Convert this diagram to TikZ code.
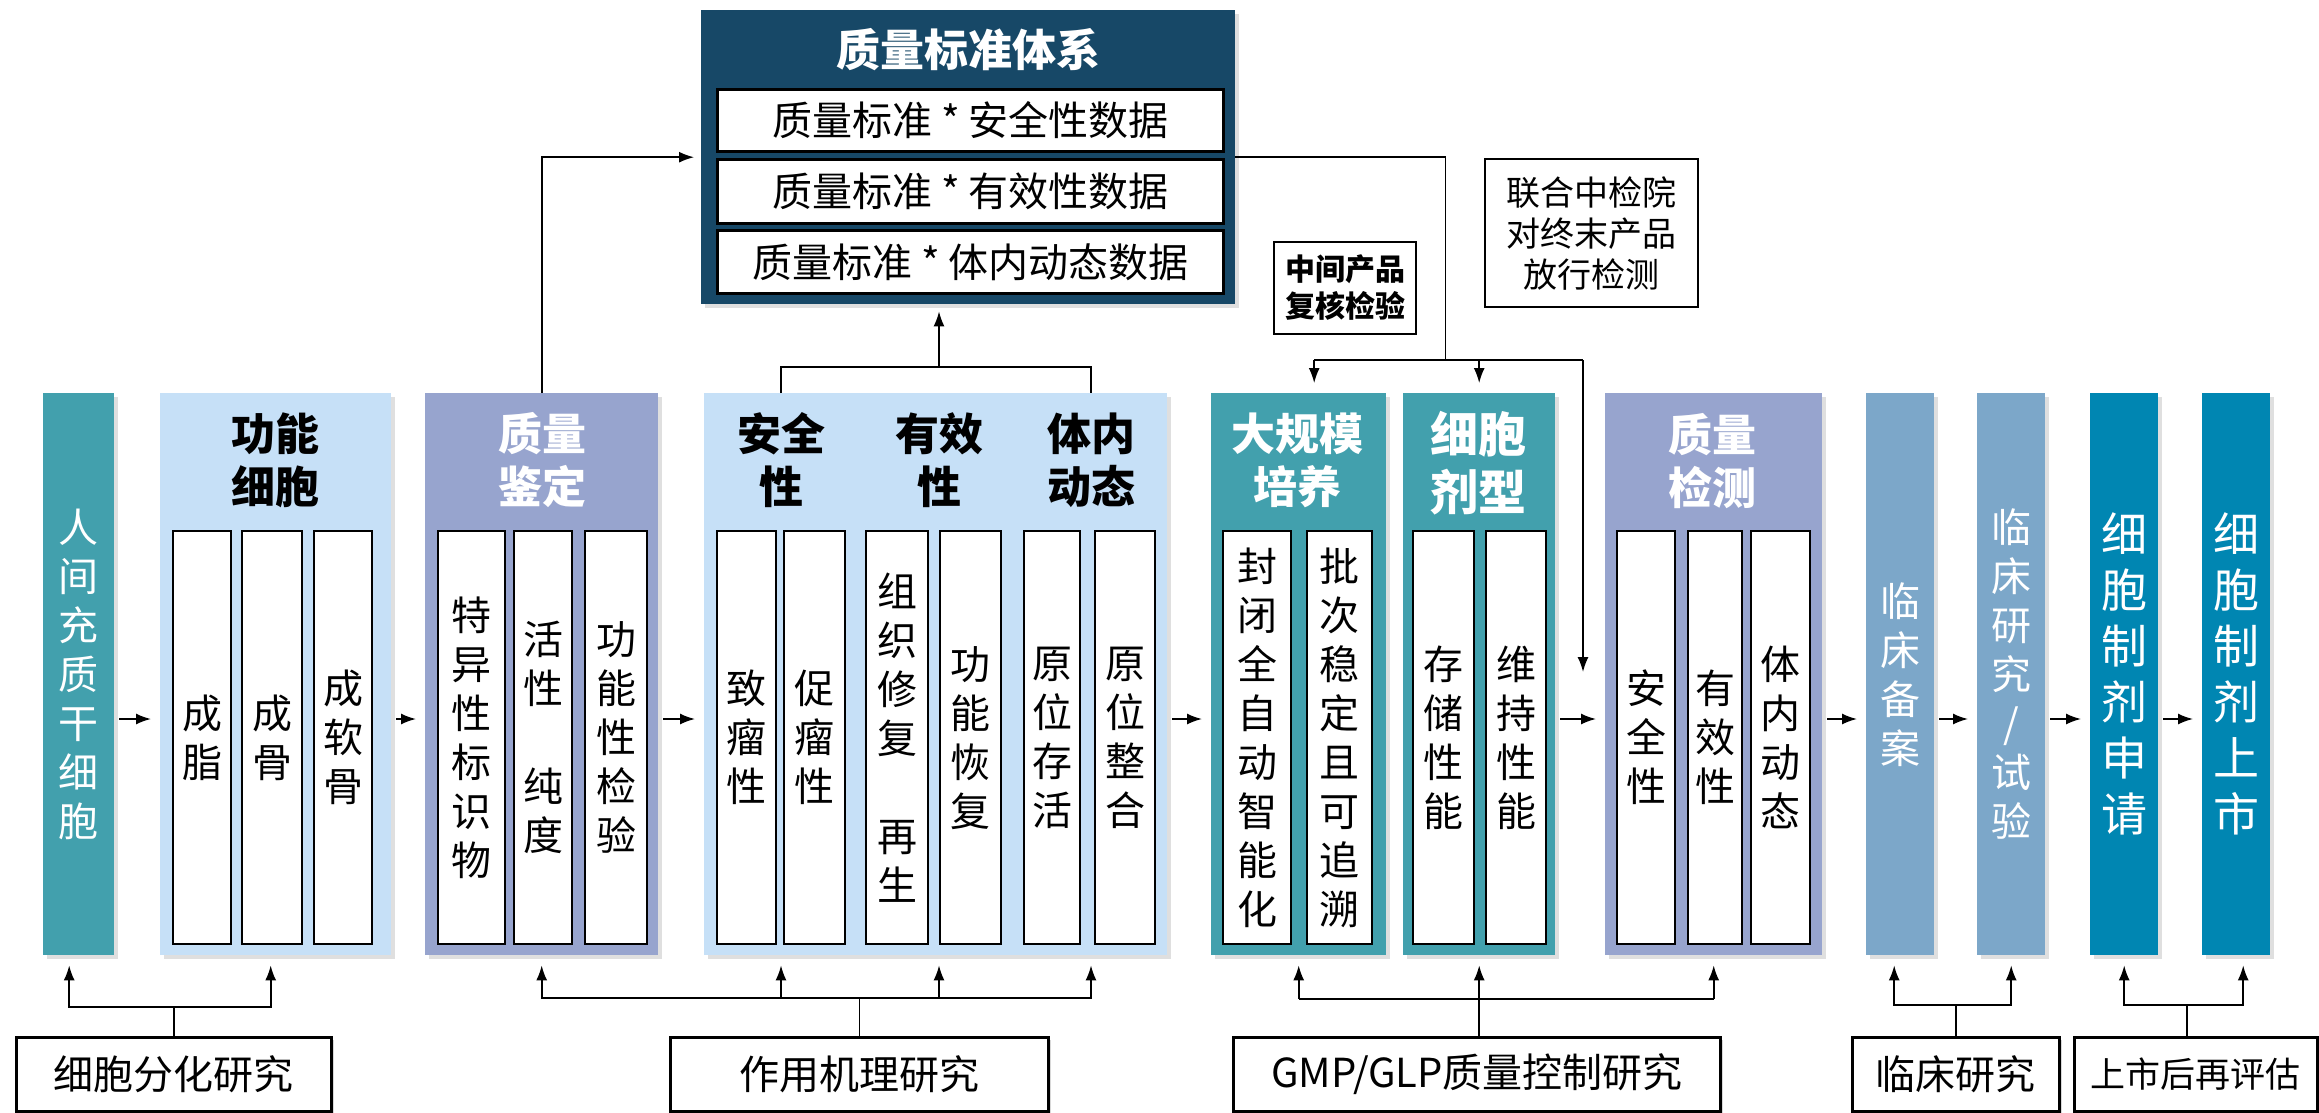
\documentclass[tikz,border=0pt]{standalone}
\usepackage{fontspec}
\setmainfont{Noto Sans CJK SC}
\usetikzlibrary{arrows.meta,shadows,calc}
\definecolor{cteal}{RGB}{66,160,173}
\definecolor{clight}{RGB}{198,224,247}
\definecolor{cpurp}{RGB}{151,164,206}
\definecolor{csteel}{RGB}{124,167,201}
\definecolor{cblue}{RGB}{0,134,178}
\definecolor{cdark}{RGB}{23,72,103}
\begin{document}
\begin{tikzpicture}[x=1pt,y=-1pt,
  panel/.style={inner sep=0pt, anchor=north west, minimum height=562,
    drop shadow={shadow xshift=4pt,shadow yshift=-4pt,opacity=0.25}},
  bar/.style={panel, align=center, text=white, font=\fontsize{40}{49}\selectfont},
  col/.style={draw, line width=2.4pt, fill=white, inner sep=0pt, anchor=north west,
    minimum height=413, align=center, font=\fontsize{40}{49}\selectfont},
  ttl/.style={inner sep=0pt, align=center, font=\bfseries\fontsize{44}{53}\selectfont},
  wbox/.style={draw, line width=3pt, fill=white, inner sep=0pt, anchor=north west,
    minimum width=506, align=center, font=\fontsize{40}{46}\selectfont},
  tbox/.style={draw, line width=2pt, fill=white, inner sep=0pt, anchor=north west, align=center},
  lbox/.style={draw, line width=2.8pt, fill=white, inner sep=0pt, anchor=north west,
    minimum height=74, font=\fontsize{40}{48}\selectfont,
    drop shadow={shadow xshift=3pt,shadow yshift=-3pt,opacity=0.3}},
  arr/.style={line width=1.6pt, -{Latex[length=15pt,width=11pt]}},
  ln/.style={line width=1.6pt}
]
\useasboundingbox (0,0) rectangle (2319,1112);
\fill[white] (0,0) rectangle (2319,1112);

% ---------- main row ----------
\node[bar, fill=cteal, minimum width=71] (stem) at (43,393) {人\\间\\充\\质\\干\\细\\胞};

\node[panel, fill=clight, minimum width=231] (func) at (160,393) {};
\node[ttl] (tfunc) at (275,460) {功能\\细胞};
\node[col, minimum width=58] (a1) at (172,530) {成\\脂};
\node[col, minimum width=60] (a2) at (241,530) {成\\骨};
\node[col, minimum width=58] (a3) at (313,530) {成\\软\\骨};

\node[panel, fill=cpurp, minimum width=233] (qid) at (425,393) {};
\node[ttl, text=white] (tqid) at (542,460) {质量\\鉴定};
\node[col, minimum width=67] (b1) at (437,530) {特\\异\\性\\标\\识\\物};
\node[col, minimum width=58] (b2) at (513,530) {活\\性\\~\\纯\\度};
\node[col, minimum width=62] (b3) at (584,530) {功\\能\\性\\检\\验};

\node[panel, fill=clight, minimum width=463] (mech) at (704,393) {};
\node[ttl] (tsafe) at (781,460) {安全\\性};
\node[ttl] (teff) at (939,460) {有效\\性};
\node[ttl] (tdyn) at (1091,460) {体内\\动态};
\node[col, minimum width=59] (c1) at (716,530) {致\\瘤\\性};
\node[col, minimum width=61] (c2) at (783,530) {促\\瘤\\性};
\node[col, minimum width=62] (c3) at (865,530) {组\\织\\修\\复\\~\\再\\生};
\node[col, minimum width=61] (c4) at (939,530) {功\\能\\恢\\复};
\node[col, minimum width=56] (c5) at (1023,530) {原\\位\\存\\活};
\node[col, minimum width=60] (c6) at (1094,530) {原\\位\\整\\合};

\node[panel, fill=cteal, minimum width=175] (scale) at (1211,393) {};
\node[ttl, text=white] (tscale) at (1297,460) {大规模\\培养};
\node[col, minimum width=68] (d1) at (1222,530) {封\\闭\\全\\自\\动\\智\\能\\化};
\node[col, minimum width=65] (d2) at (1306,530) {批\\次\\稳\\定\\且\\可\\追\\溯};

\node[panel, fill=cteal, minimum width=152] (form) at (1403,393) {};
\node[ttl, text=white, font=\bfseries\fontsize{48}{58}\selectfont] (tform) at (1478,463) {细胞\\剂型};
\node[col, minimum width=61] (e1) at (1412,530) {存\\储\\性\\能};
\node[col, minimum width=60] (e2) at (1485,530) {维\\持\\性\\能};

\node[panel, fill=cpurp, minimum width=217] (qtest) at (1605,393) {};
\node[ttl, text=white] (tqtest) at (1712,461) {质量\\检测};
\node[col, minimum width=58] (f1) at (1616,530) {安\\全\\性};
\node[col, minimum width=54] (f2) at (1687,530) {有\\效\\性};
\node[col, minimum width=59] (f3) at (1750,530) {体\\内\\动\\态};

\node[bar, fill=csteel, minimum width=68] (filing) at (1866,393) {临\\床\\备\\案};
\node[bar, fill=csteel, minimum width=68] (trial) at (1977,393) {临\\床\\研\\究\\/\\试\\验};
\node[bar, fill=cblue, minimum width=68, font=\fontsize{46}{56}\selectfont] (apply) at (2090,393) {细\\胞\\制\\剂\\申\\请};
\node[bar, fill=cblue, minimum width=68, font=\fontsize{46}{56}\selectfont] (market) at (2202,393) {细\\胞\\制\\剂\\上\\市};

% ---------- top ----------
\node[panel, fill=cdark, minimum width=534, minimum height=294] (top) at (701,10) {};
\node[ttl, text=white] (ttop) at (968,50) {质量标准体系};
\node[wbox, minimum height=62] (g1) at (716,88) {质量标准 * 安全性数据};
\node[wbox, minimum height=64] (g2) at (716,158) {质量标准 * 有效性数据};
\node[wbox, minimum height=63] (g3) at (716,229) {质量标准 * 体内动态数据};

\node[tbox, minimum width=142, minimum height=92, font=\bfseries\fontsize{30}{37}\selectfont] (mid) at (1273,241) {中间产品\\复核检验};
\node[tbox, minimum width=213, minimum height=148, font=\fontsize{34}{41}\selectfont] (rel) at (1484,158) {联合中检院\\对终末产品\\放行检测};

% ---------- bottom ----------
\node[lbox, minimum width=315] (diff) at (15,1036) {细胞分化研究};
\node[lbox, minimum width=378] (mechr) at (669,1036) {作用机理研究};
\node[lbox, minimum width=487] (gmp) at (1232,1036) {GMP/GLP质量控制研究};
\node[lbox, minimum width=207] (clin) at (1851,1036) {临床研究};
\node[lbox, minimum width=243, font=\fontsize{35}{42}\selectfont] (post) at (2073,1036) {上市后再评估};

% ---------- connectors ----------
\coordinate (ay) at (0,719);
\foreach \a/\b in {stem/func, func/qid, qid/mech, mech/scale, form/qtest, qtest/filing, filing/trial, trial/apply, apply/market}
  \draw[arr, shorten <=5pt, shorten >=9pt] (\a.east |- ay) -- (\b.west |- ay);

% to quality standard system
\draw[arr, shorten >=7pt] (qid.north) |- (top.west);
\draw[ln] (tsafe |- mech.north) -- ++(0,-26) coordinate (mjl) -| (tdyn |- mech.north);
\draw[arr, shorten >=7pt] (teff |- mjl) -- (teff |- top.south);

% from quality standard system to production
\draw[ln] (top.east) -| ++(210,203) coordinate (rj);
\coordinate (sIn) at ([xshift=15.5pt]scale.north);
\coordinate (chk) at (1583,672);
\draw[ln] (sIn |- rj) -- (chk |- rj);
\draw[arr, shorten >=10pt] (sIn |- rj) -- (sIn);
\draw[arr, shorten >=10pt] (form.north |- rj) -- (form.north);
\draw[arr] (chk |- rj) -- (chk);

% bottom research connectors
\draw[ln] (diff.north) -- ++(0,-29) coordinate (dj);
\draw[arr, shorten >=10pt] (dj) -| ([xshift=-9.5pt]stem.south);
\draw[arr, shorten >=10pt] (dj) -| ([xshift=-5pt]func.south);

\draw[ln] (mechr.north) -- ++(0,-38) coordinate (mj2);
\draw[arr, shorten >=10pt] (mj2) -| (qid.south);
\draw[arr, shorten >=10pt] (mj2) -| (tsafe |- mech.south);
\draw[arr, shorten >=10pt] (mj2) -| (teff |- mech.south);
\draw[arr, shorten >=10pt] (mj2) -| (tdyn |- mech.south);

\coordinate (gj) at ($(gmp.north -| form.south)+(0,-37)$);
\draw[arr, shorten >=10pt] (gmp.north -| form.south) -- (form.south);
\draw[ln] (scale.south |- gj) -- (qtest.south |- gj);
\draw[arr, shorten >=10pt] (scale.south |- gj) -- (scale.south);
\draw[arr, shorten >=10pt] (qtest.south |- gj) -- (qtest.south);

\draw[ln] (clin.north) -- ++(0,-31) coordinate (cj);
\draw[arr, shorten >=10pt] (cj) -| ([xshift=-6pt]filing.south);
\draw[arr, shorten >=10pt] (cj) -| (trial.south);

\draw[ln] ([xshift=-9pt]post.north) -- ++(0,-31) coordinate (pj);
\draw[arr, shorten >=10pt] (pj) -| (apply.south);
\draw[arr, shorten >=10pt] (pj) -| ([xshift=7pt]market.south);
\end{tikzpicture}
\end{document}
